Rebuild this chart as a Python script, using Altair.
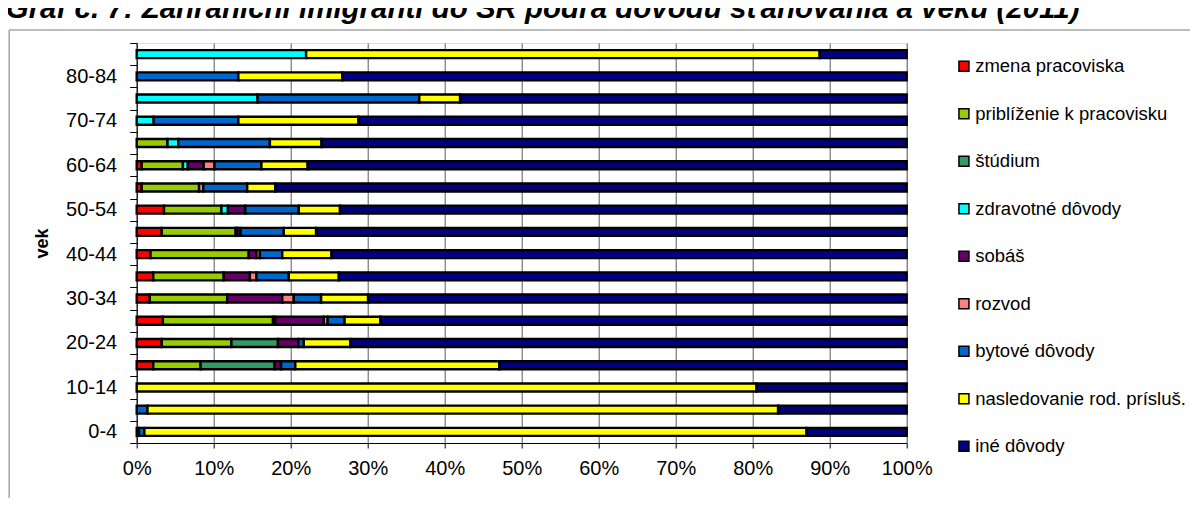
import altair as alt
import pandas as pd

ages = ["0-4", "5-9", "10-14", "15-19", "20-24", "25-29", "30-34", "35-39", "40-44",
        "45-49", "50-54", "55-59", "60-64", "65-69", "70-74", "75-79", "80-84", "85+"]

reasons = ["zmena pracoviska", "priblíženie k pracovisku", "štúdium", "zdravotné dôvody",
           "sobáš", "rozvod", "bytové dôvody", "nasledovanie rod. prísluš.", "iné dôvody"]
colors = ["#FF0000", "#99CC00", "#339966", "#00FFFF", "#660066", "#FF8080",
          "#0066CC", "#FFFF00", "#000080"]

# percentage shares per age group (0-4 ... 85+)
zmena       = [0.3, 0, 0, 2.15, 3.25, 3.4, 1.7, 2.15, 1.8, 3.25, 3.55, 0.65, 0.65, 0, 0, 0, 0, 0]
priblizenie = [0, 0, 0, 6.15, 9.05, 14.3, 10.05, 9.15, 12.75, 9.6, 7.45, 7.45, 5.35, 4.0, 0, 0, 0, 0]
studium     = [0, 0, 0, 9.6, 6.05, 0.3, 0, 0, 0, 0.2, 0, 0, 0, 0, 0, 0, 0, 0]
zdravotne   = [0, 0, 0, 0, 0, 0, 0, 0, 0, 0, 0.85, 0, 0.65, 1.4, 2.2, 15.7, 0, 22.0]
sobas       = [0, 0, 0, 0.85, 2.65, 6.3, 7.15, 3.4, 1.0, 0.45, 2.25, 0, 2.05, 0, 0, 0, 0, 0]
rozvod      = [0, 0, 0, 0, 0, 0.5, 1.5, 0.85, 0.45, 0, 0, 0.55, 1.4, 0, 0, 0, 0, 0]
bytove      = [0.7, 1.4, 0, 1.85, 0.7, 2.2, 3.55, 4.2, 2.9, 5.6, 6.95, 5.7, 6.1, 11.9, 11.0, 21.0, 13.2, 0]
nasledovanie= [86.0, 81.9, 80.5, 26.5, 6.05, 4.65, 6.1, 6.5, 6.4, 4.2, 5.35, 3.65, 6.0, 6.7, 15.6, 5.3, 13.5, 66.7]
ine         = [13.0, 16.7, 19.5, 52.9, 72.25, 68.35, 69.95, 73.75, 74.7, 76.7, 73.6, 82.0, 77.8, 76.0, 71.2, 58.0, 73.3, 11.3]

series = [zmena, priblizenie, studium, zdravotne, sobas, rozvod, bytove, nasledovanie, ine]
shown_labels = ["0-4", "10-14", "20-24", "30-34", "40-44", "50-54", "60-64", "70-74", "80-84"]
title_text = "Graf č. 7: Zahraniční imigranti do SR podľa dôvodu sťahovania a veku (2011)"

rows = []
for ri, (r, vals) in enumerate(zip(reasons, series)):
    for a, v in zip(ages, vals):
        if v > 0:
            rows.append({"vek": a, "dovod": r, "value": v, "idx": ri})
df = pd.DataFrame(rows)

FONT = "Liberation Sans"
PW, PH = 770, 400

label_expr = "indexof(" + str(shown_labels) + ", datum.label) >= 0 ? datum.label : ''"

bars = alt.Chart(df).mark_bar(size=8, stroke="black", strokeWidth=2.4).encode(
    y=alt.Y("vek:N", sort=list(reversed(ages)), scale=alt.Scale(paddingInner=0, paddingOuter=0),
            axis=alt.Axis(title="vek", titleFont=FONT, titleFontSize=18, titleFontWeight="bold",
                          titleColor="black", titlePadding=14,
                          labelFont=FONT, labelFontSize=20, labelColor="black",
                          labelExpr=label_expr, tickBand="extent", tickSize=7,
                          labelPadding=13, tickColor="black", domainColor="black",
                          grid=False)),
    x=alt.X("value:Q", stack="normalize", scale=alt.Scale(domain=[0, 1], nice=False),
            axis=alt.Axis(title=None, format=".0%", values=[i / 10 for i in range(11)],
                          labelFont=FONT, labelFontSize=20, labelColor="black",
                          labelFlush=False, labelOverlap=False,
                          tickSize=5, tickColor="black", domainColor="black",
                          labelPadding=11, gridColor="#5a5a5a", gridWidth=1)),
    color=alt.Color("dovod:N", scale=alt.Scale(domain=reasons, range=colors),
                    legend=alt.Legend(title=None, orient="none", legendX=818, legendY=14,
                                      symbolType="square", symbolSize=100,
                                      symbolStrokeColor="black", symbolStrokeWidth=1.5,
                                      labelFont=FONT, labelFontSize=18.5, labelColor="black",
                                      labelOffset=2, labelLimit=400, rowPadding=28.5, padding=0)),
    order=alt.Order("idx:Q", sort="ascending"),
)

title = alt.Chart(pd.DataFrame({"t": [title_text]})).mark_text(
    align="left", baseline="alphabetic", font=FONT, fontSize=29.5, fontWeight="bold",
    fontStyle="italic", color="black"
).encode(x=alt.value(-131), y=alt.value(-25), text="t:N")

frame_left = alt.Chart(pd.DataFrame({"a": [0]})).mark_rule(color="#a6a6a6", strokeWidth=1.5).encode(
    x=alt.value(-127.5), y=alt.value(-13), y2=alt.value(470))
frame_top = alt.Chart(pd.DataFrame({"a": [0]})).mark_rule(color="#a6a6a6", strokeWidth=1.5).encode(
    x=alt.value(-127.5), x2=alt.value(1100), y=alt.value(-13))

chart = alt.layer(frame_left, frame_top, bars, title).properties(
    width=PW, height=PH,
    autosize=alt.AutoSizeParams(type="none"),
    padding={"left": 128.7, "top": 35, "right": 283, "bottom": 55},
).configure_view(stroke="#808080", strokeWidth=1.5).configure(background="white")

chart.save("out.html", embed_options={"renderer": "svg", "actions": False})
